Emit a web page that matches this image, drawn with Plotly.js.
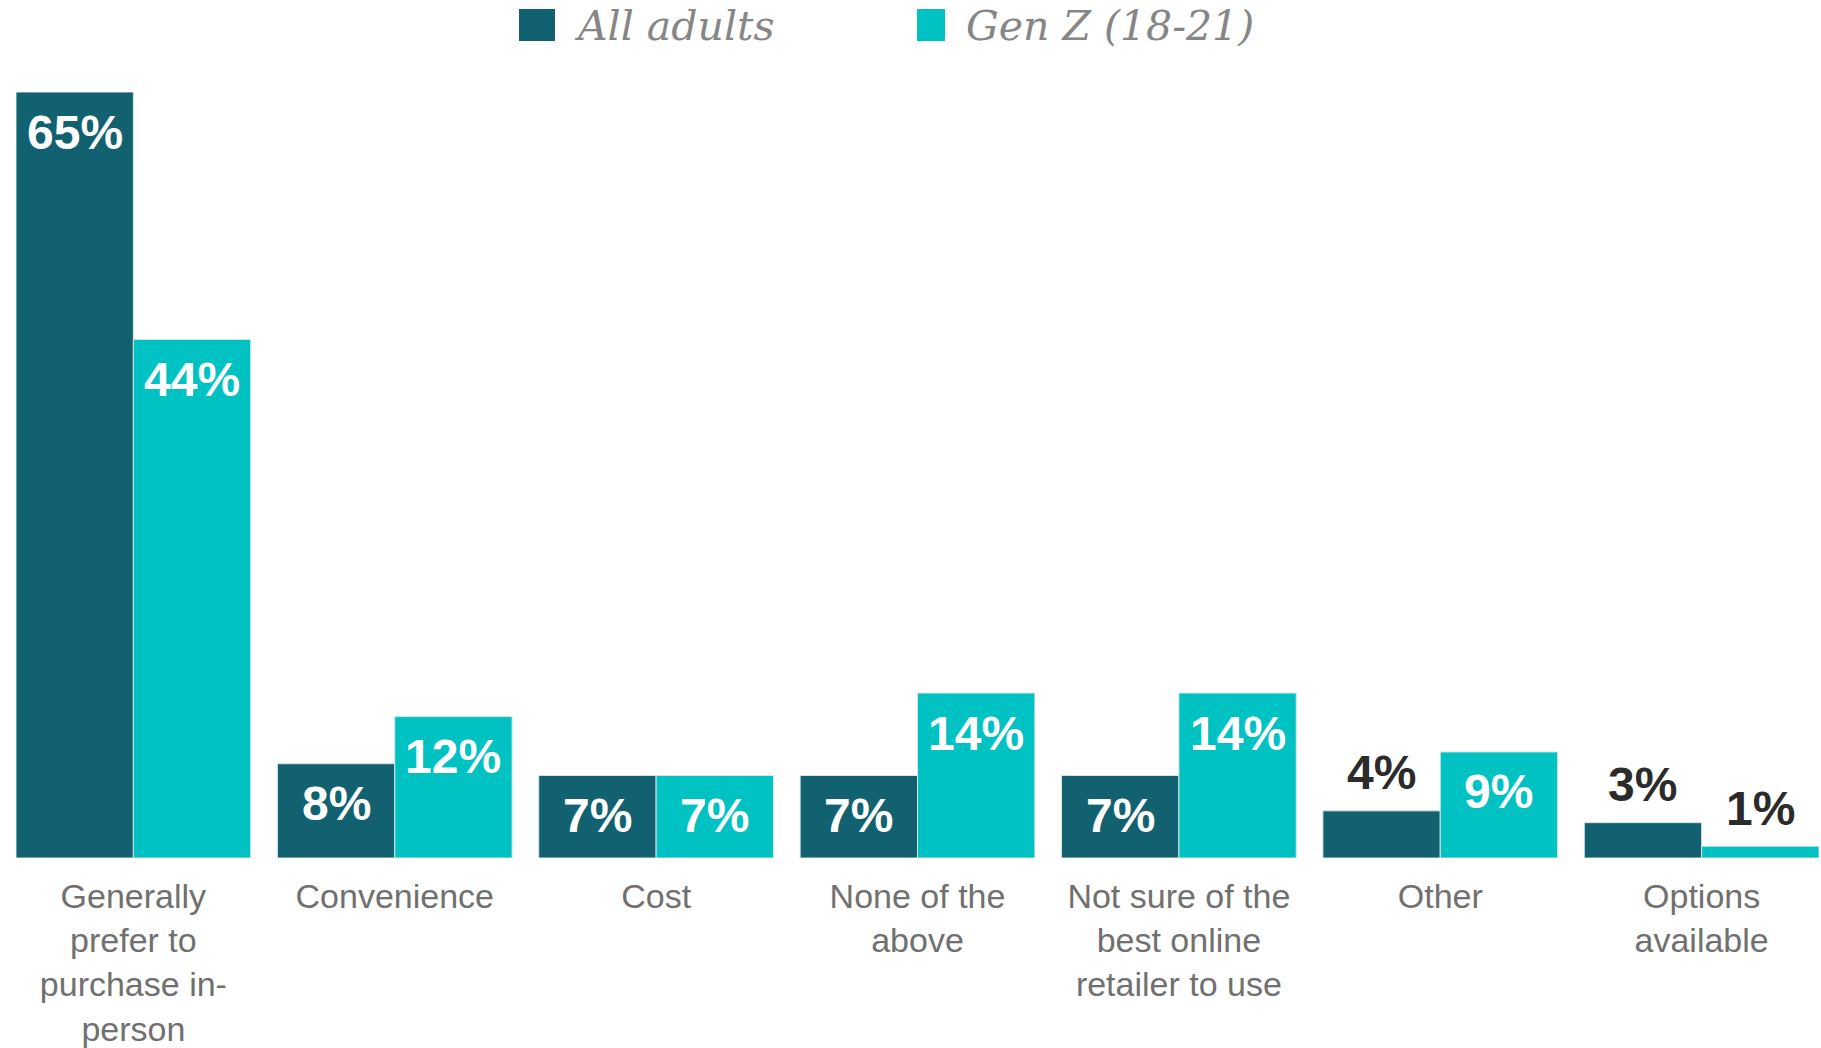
<!DOCTYPE html>
<html>
<head>
<meta charset="utf-8">
<script src="https://cdn.plot.ly/plotly-3.0.1.min.js"></script>
<style>html,body{margin:0;padding:0;background:#fff;}#chart{width:1821px;height:1048px;}</style>
</head>
<body>
<div id="chart"></div>
<script>
// ---- data ----
const categories = ["Generally prefer to purchase in-person", "Convenience", "Cost", "None of the above", "Not sure of the best online retailer to use", "Other", "Options available"];
const tickLabels = ["Generally<br>prefer to<br>purchase in-<br>person", "Convenience", "Cost", "None of the<br>above", "Not sure of the<br>best online<br>retailer to use", "Other", "Options<br>available"];
const seriesNames = ["All adults", "Gen Z (18-21)"];
const allAdults = [65, 8, 7, 7, 7, 4, 3];
const genZ = [44, 12, 7, 14, 14, 9, 1];

// ---- style ----
const colors = ["#126170", "#00C2C3"];
const W = 1821, H = 1048;
const M = {l: 16, r: 2, t: 92, b: 190};
const bargap = 0.102;
const plotW = W - M.l - M.r, plotH = H - M.t - M.b;
const px2x = p => (p - M.l) / plotW;
const px2y = p => (H - M.b - p) / plotH;

const series = [allAdults, genZ];
const idx = categories.map((c, i) => i);

const traces = series.map((vals, s) => ({
  type: 'bar',
  name: seriesNames[s],
  x: idx,
  y: vals,
  marker: {color: colors[s], line: {color: '#d6e4e6', width: 1}},
  showlegend: false,
  hoverinfo: 'x+y'
}));

// data labels through the axis scales
const half = (1 - bargap) / 4;
const annotations = [];
series.forEach((vals, s) => {
  vals.forEach((v, i) => {
    const inside = v >= 5;
    annotations.push({
      x: i + (s === 0 ? -half : half),
      y: v,
      xref: 'x', yref: 'y',
      text: v + '%',
      showarrow: false,
      xanchor: 'center', yanchor: 'middle',
      yshift: inside ? -40 : 38,
      font: {family: 'Liberation Sans, Arial, sans-serif', size: 48, color: inside ? '#ffffff' : '#2b2b2b', weight: 'bold'}
    });
  });
});

// custom legend
const legendItems = [
  {sq: [519, 555], text: 572},
  {sq: [917, 945], text: 964}
];
const shapes = [];
legendItems.forEach((it, s) => {
  shapes.push({
    type: 'rect', xref: 'paper', yref: 'paper',
    x0: px2x(it.sq[0]), x1: px2x(it.sq[1]),
    y0: px2y(41), y1: px2y(9),
    fillcolor: colors[s], line: {width: 0}
  });
  annotations.push({
    xref: 'paper', yref: 'paper',
    x: px2x(it.text), y: px2y(26),
    xanchor: 'left', yanchor: 'middle',
    text: seriesNames[s], showarrow: false,
    font: {family: 'DejaVu Serif, Georgia, serif', size: 41, color: '#868686', style: 'italic'}
  });
});

const layout = {
  width: W, height: H,
  margin: M,
  paper_bgcolor: '#ffffff', plot_bgcolor: '#ffffff',
  barmode: 'group', bargap: bargap, bargroupgap: 0,
  showlegend: false,
  xaxis: {
    type: 'linear',
    range: [-0.5 + bargap / 2, categories.length - 0.5 - bargap / 2],
    tickvals: idx, ticktext: tickLabels,
    showgrid: false, zeroline: false, showline: false,
    ticks: '', ticklabelstandoff: 15,
    tickfont: {family: 'Liberation Sans, Arial, sans-serif', size: 34, color: '#707070'},
    fixedrange: true
  },
  yaxis: {range: [0, 65], visible: false, fixedrange: true},
  annotations: annotations,
  shapes: shapes
};

Plotly.newPlot('chart', traces, layout, {displayModeBar: false, staticPlot: true});
</script>
</body>
</html>
